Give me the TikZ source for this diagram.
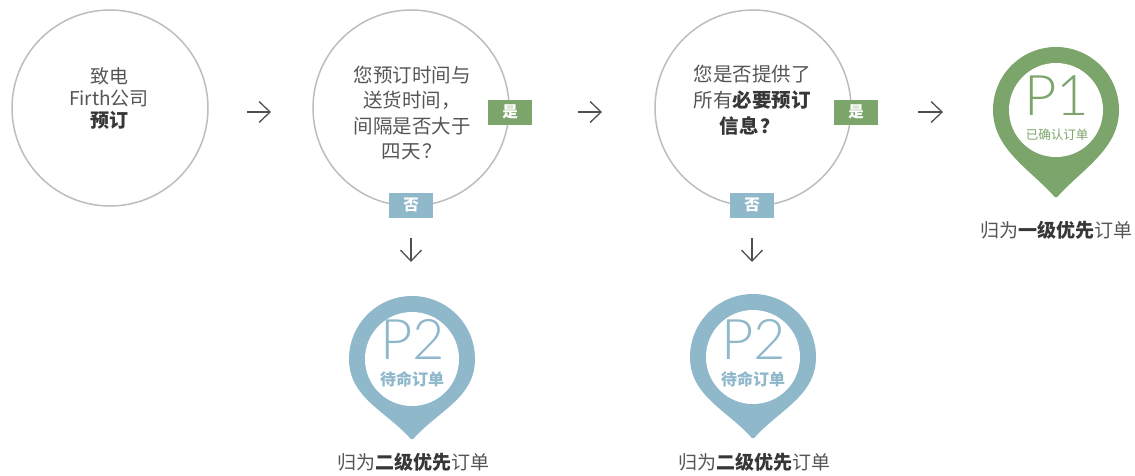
\documentclass[tikz,border=0pt]{standalone}
\usepackage{fontspec}
\setmainfont{Noto Sans CJK SC}
\IfFontExistsTF{Lato Light}{\newfontfamily\thinfont{Lato Light}}{\newfontfamily\thinfont{Lato}}
\usetikzlibrary{arrows.meta}
\definecolor{pgreen}{RGB}{124,165,108}
\definecolor{pblue}{RGB}{143,184,203}
\definecolor{circ}{RGB}{189,189,189}
\definecolor{txt}{RGB}{85,85,85}
\definecolor{txtb}{RGB}{55,55,55}
\definecolor{arrc}{RGB}{80,80,80}
\newcommand\mappin[4]{% x, y, tip distance, colour
  \begin{scope}[shift={(#1,#2)}]
    \fill[#4] (-63,0) arc[start angle=180,end angle=360,radius=63]
      .. controls (63,38) and (28,#3-30) .. (3,#3-3)
      .. controls (1,#3) and (-1,#3) .. (-3,#3-3)
      .. controls (-28,#3-30) and (-63,38) .. cycle;
    \fill[white] (0,0) circle[radius=47];
  \end{scope}}
\begin{document}
\begin{tikzpicture}[x=1pt,y=-1pt,
  bubble/.style={circle, draw=circ, line width=1.5pt, minimum size=196pt, inner sep=0pt},
  btxt/.style={align=center, text=txt, inner sep=0pt},
  tagbox/.style={minimum width=44pt, minimum height=25pt, inner sep=0pt, text=white,
    font=\fontsize{15.5}{15.5}\selectfont\bfseries},
  yesbox/.style={tagbox, fill=pgreen},
  nobox/.style={tagbox, fill=pblue},
  arr/.style={-{Straight Barb[length=11pt,width=21pt]}, line width=1.3pt, draw=arrc},
  ptxt/.style={font=\thinfont\fontsize{56}{56}\selectfont, inner sep=0pt,
    text depth=0pt, anchor=base},
  subtxt/.style={inner sep=0pt},
  result/.style={font=\fontsize{19}{19}\selectfont, text=txt, inner sep=0pt}
]
\useasboundingbox (0,0) rectangle (1135,475);

% decision circles
\node[bubble] (c1) at (110,108) {};
\node[btxt, font=\fontsize{19}{22}\selectfont] (t1) at (109,98)
  {致电\\Firth公司\\{\color{txtb}\bfseries 预订}};
\node[bubble] (c2) at (411,108) {};
\node[btxt, font=\fontsize{19.5}{25.5}\selectfont] (t2) at (412,113)
  {您预订时间与\\送货时间，\hspace{0.3em}\\间隔是否大于\\四天\hspace{0.1em}？\hspace{0.2em}};
\node[bubble] (c3) at (753,108) {};
\node[btxt, font=\fontsize{19.5}{26}\selectfont] (t3) at (752,100)
  {您是否提供了\\所有{\color{txtb}\bfseries 必要预订}\\{\color{txtb}\bfseries 信息\hspace{0.1em}？\hspace{0.2em}}};

% yes / no tags
\node[yesbox] (yes1) at (510,112) {是};
\node[nobox]  (no1)  at (411,205) {否};
\node[yesbox] (yes2) at (856,112) {是};
\node[nobox]  (no2)  at (752,205) {否};

% pins
\mappin{1056}{110}{88}{pgreen}
\mappin{412}{359}{81}{pblue}
\mappin{753}{357}{82}{pblue}

\node[ptxt, text=pgreen] (p1) at (1057,115) {P1};
\node[subtxt, text=pgreen, font=\fontsize{12.5}{12.5}\selectfont] (p1s) at (1057,135) {已确认订单};
\node[ptxt, text=pblue] (p2a) at (413,359) {P2};
\node[subtxt, text=pblue, font=\fontsize{16}{16}\selectfont\bfseries] (p2as) at (412,379) {待命订单};
\node[ptxt, text=pblue] (p2b) at (754,359) {P2};
\node[subtxt, text=pblue, font=\fontsize{16}{16}\selectfont\bfseries] (p2bs) at (753,379) {待命订单};

% result labels
\node[result] (r1)  at (1056,230) {归为{\color{txtb}\bfseries 一级优先}订单};
\node[result] (r2a) at (413,462) {归为{\color{txtb}\bfseries 二级优先}订单};
\node[result] (r2b) at (754,462) {归为{\color{txtb}\bfseries 二级优先}订单};

% arrows
\coordinate (a1s) at (247,112); \coordinate (a1e) at (271,112);
\coordinate (a2s) at (578,112); \coordinate (a2e) at (602,112);
\coordinate (a3s) at (918,112); \coordinate (a3e) at (943,112);
\coordinate (d1s) at (411,238); \coordinate (d1e) at (411,262);
\coordinate (d2s) at (752,238); \coordinate (d2e) at (752,262);
\draw[arr] (a1s) -- (a1e);
\draw[arr] (a2s) -- (a2e);
\draw[arr] (a3s) -- (a3e);
\draw[arr] (d1s) -- (d1e);
\draw[arr] (d2s) -- (d2e);
\end{tikzpicture}
\end{document}
